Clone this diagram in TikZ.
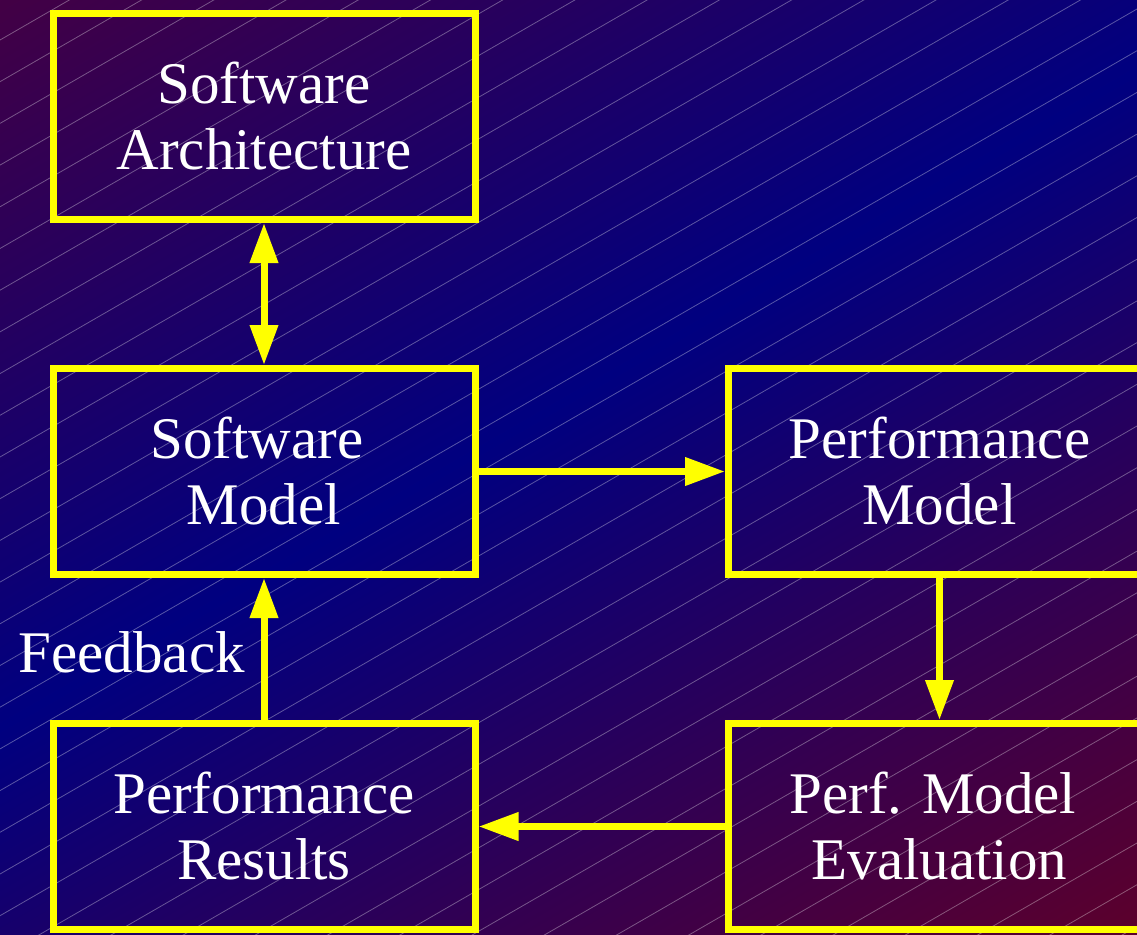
\documentclass[tikz,border=0pt]{standalone}
\usepackage{fontspec}
\setmainfont{Liberation Serif}
\usetikzlibrary{arrows.meta}
\definecolor{bgwine}{RGB}{74,0,62}
\definecolor{bgnavy}{RGB}{0,0,128}
\definecolor{bgclaret}{RGB}{94,0,42}
\definecolor{boxyellow}{RGB}{255,255,0}
\tikzset{
  stagebox/.style={draw=boxyellow, line width=7pt, minimum width=422pt,
    minimum height=206pt, inner sep=0pt, text=white, align=center,
    font=\fontsize{59}{66}\selectfont},
  flowlabel/.style={text=white, inner sep=0pt, font=\fontsize{59}{66}\selectfont},
  flow/.style={draw=boxyellow, line width=7pt, -{Triangle[length=40pt,width=27pt]}},
  twoway/.style={draw=boxyellow, line width=7pt,
    {Triangle[length=40pt,width=27pt]}-{Triangle[length=40pt,width=27pt]}},
  hatch/.style={draw=white, opacity=0.33, line width=0.8pt}
}
\begin{document}
\begin{tikzpicture}[x=1pt, y=-1pt]
  \useasboundingbox (0,0) rectangle (1137,934);
  \clip (0,0) rectangle (1137,934);
  \fill[bgclaret] (0,0) rectangle (1137,934);
  % diagonal background: wine in the upper left, navy band, claret in the lower right
  \begin{scope}[transform canvas={shift={(315,545.6)}, rotate=30}]
    \shade[top color=bgwine, bottom color=bgnavy]
      (-1100,-700) rectangle (1100,0.5);
    \shade[top color=bgnavy, bottom color=bgclaret]
      (-1100,0) rectangle (1100,760);
  \end{scope}
  % fine diagonal rules
  \foreach \k in {-1,...,38}
    \draw[hatch] (0,{40+41.7*\k}) -- (1137,{40+41.7*\k-656.5});

  % stages
  \node[stagebox] (sa) at (264,116.5) {Software\\Architecture};
  \node[stagebox] (sm) at (264,471.5) {Software\rule{14pt}{0pt}\\Model};
  \node[stagebox] (pm) at (939.5,471.5) {Performance\\Model};
  \node[stagebox] (pr) at (264,826.5) {Performance\\Results};
  \node[stagebox] (pe) at (939.5,826.5) {Perf. Model\rule{13pt}{0pt}\\Evaluation};
  \node[flowlabel, anchor=east] (fb) at (245,652) {Feedback};

  % connections
  \draw[twoway] (sa) -- (sm);
  \draw[flow] (sm) -- (pm);
  \draw[flow] (pm) -- (pe);
  \draw[flow] (pe) -- (pr);
  \draw[flow] (pr) -- (sm);
\end{tikzpicture}
\end{document}
